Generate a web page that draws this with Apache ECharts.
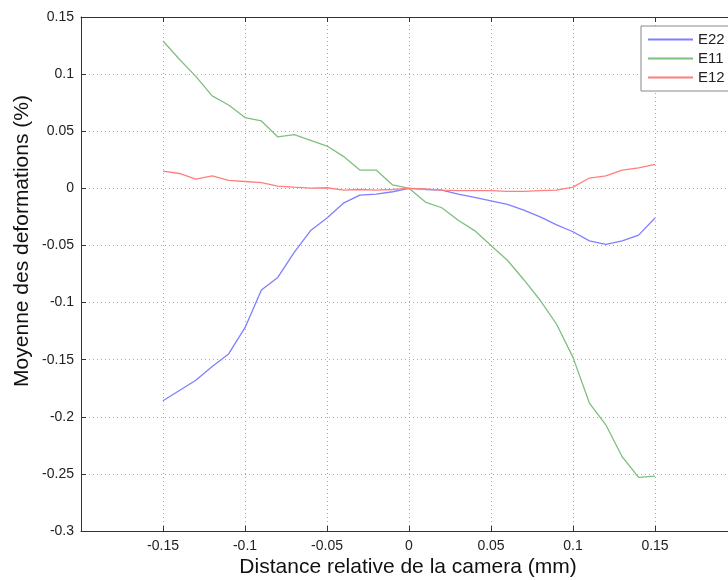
<!DOCTYPE html>
<html>
<head>
<meta charset="utf-8">
<script src="https://cdn.jsdelivr.net/npm/echarts@6/dist/echarts.min.js"></script>
<style>
html,body{margin:0;padding:0;background:#fff;}
#chart{width:728px;height:580px;}
</style>
</head>
<body>
<div id="chart"></div>
<script>
var distances = [-0.15,-0.14,-0.13,-0.12,-0.11,-0.10,-0.09,-0.08,-0.07,-0.06,-0.05,-0.04,-0.03,-0.02,-0.01,0,0.01,0.02,0.03,0.04,0.05,0.06,0.07,0.08,0.09,0.10,0.11,0.12,0.13,0.14,0.15];
var E22 = [-0.186,-0.177,-0.168,-0.156,-0.145,-0.122,-0.089,-0.078,-0.056,-0.037,-0.026,-0.013,-0.006,-0.005,-0.003,0,-0.001,-0.0015,-0.005,-0.008,-0.011,-0.014,-0.019,-0.025,-0.032,-0.038,-0.046,-0.049,-0.046,-0.041,-0.026];
var E11 = [0.129,0.113,0.098,0.081,0.073,0.062,0.059,0.045,0.047,0.042,0.037,0.028,0.016,0.016,0.003,0,-0.012,-0.017,-0.028,-0.037,-0.050,-0.063,-0.080,-0.098,-0.119,-0.148,-0.188,-0.207,-0.235,-0.253,-0.252];
var E12 = [0.015,0.013,0.008,0.011,0.007,0.006,0.005,0.002,0.001,0.0002,0.0005,-0.0015,-0.001,-0.0015,-0.001,0,-0.0006,-0.0015,-0.002,-0.002,-0.002,-0.0026,-0.0026,-0.002,-0.0015,0.001,0.009,0.011,0.016,0.018,0.021];
var seriesNames = ['E22','E11','E12'];
var xTitle = 'Distance relative de la camera (mm)';
var yTitle = 'Moyenne des deformations (%)';

function pairs(vals){ return distances.map(function(d,i){ return [d, vals[i]]; }); }
function fmt(v){ return String(parseFloat(v.toFixed(3))); }

var font = '"Liberation Sans", Arial, sans-serif';
var chart = echarts.init(document.getElementById('chart'), null, {renderer:'canvas'});
chart.setOption({
  animation:false,
  backgroundColor:'#fff',
  textStyle:{fontFamily:font},
  grid:{left:81, top:17, height:514, width:656, containLabel:false, outerBoundsMode:'none'},
  legend:{
    data:seriesNames, orient:'vertical', left:641, top:26,
    padding:[4,4,4,7], itemGap:0, itemWidth:45, itemHeight:2, icon:'rect',
    backgroundColor:'#fff', borderColor:'#888', borderWidth:1,
    textStyle:{fontFamily:font, fontSize:15, color:'#222', lineHeight:19}
  },
  xAxis:[{
    type:'value', min:-0.2, max:0.2, interval:0.05, position:'bottom',
    axisLine:{show:true, onZero:false, lineStyle:{color:'#333', width:1}},
    axisTick:{show:true, inside:true, length:5, lineStyle:{color:'#333'}},
    axisLabel:{show:true, showMinLabel:false, showMaxLabel:false, margin:8, fontSize:14, color:'#222', fontFamily:font, formatter:fmt},
    splitLine:{show:true, lineStyle:{type:[1,3], color:'#aaa', width:1}}
  },{
    type:'value', min:-0.2, max:0.2, interval:0.05, position:'top',
    axisLine:{show:true, onZero:false, lineStyle:{color:'#333', width:1}},
    axisTick:{show:true, inside:true, length:5, lineStyle:{color:'#333'}},
    axisLabel:{show:false}, splitLine:{show:false}
  }],
  yAxis:{
    type:'value', min:-0.3, max:0.15, interval:0.05,
    axisLine:{show:true, onZero:false, lineStyle:{color:'#333', width:1}},
    axisTick:{show:true, inside:true, length:5, lineStyle:{color:'#333'}},
    axisLabel:{margin:7, fontSize:14, color:'#222', fontFamily:font, formatter:fmt},
    splitLine:{show:true, lineStyle:{type:[1,3], color:'#aaa', width:1}}
  },
  graphic:[
    {type:'text', x:408, y:567, style:{text:xTitle, font:'21px '+font, fill:'#111', align:'center', verticalAlign:'middle'}},
    {type:'text', x:22, y:241, rotation:Math.PI/2, style:{text:yTitle, font:'21px '+font, fill:'#111', align:'center', verticalAlign:'middle'}}
  ],
  series:[
    {name:seriesNames[0], type:'line', xAxisIndex:0, data:pairs(E22), showSymbol:false, symbol:'none', lineStyle:{color:'#7f7fff', width:1.3}, itemStyle:{color:'#7f7fff'}},
    {name:seriesNames[1], type:'line', xAxisIndex:0, data:pairs(E11), showSymbol:false, symbol:'none', lineStyle:{color:'#7fbf7f', width:1.3}, itemStyle:{color:'#7fbf7f'}},
    {name:seriesNames[2], type:'line', xAxisIndex:0, data:pairs(E12), showSymbol:false, symbol:'none', lineStyle:{color:'#ff7f7f', width:1.3}, itemStyle:{color:'#ff7f7f'}}
  ]
});
</script>
</body>
</html>
